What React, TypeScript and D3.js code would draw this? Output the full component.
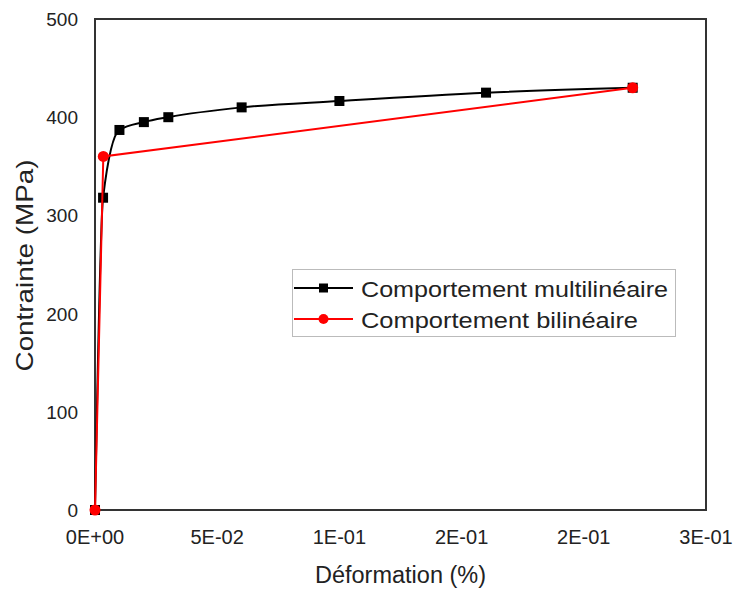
import React from "react";
import * as d3 from "d3";

const multiX = [0, 0.0033, 0.01, 0.02, 0.03, 0.06, 0.1, 0.16, 0.22];
const multiY = [0, 318, 387, 395, 400, 410, 416.5, 425, 430];
const biX = [0, 0.0034, 0.22];
const biY = [0, 360, 430];
const xTicks = [0, 0.05, 0.1, 0.15, 0.2, 0.25];
const yTicks = [0, 100, 200, 300, 400, 500];
const seriesNames = ["Comportement multilinéaire", "Comportement bilinéaire"];

const W = 733, H = 590;
const L = 95, R = 706, T = 19, B = 510;
const FONT = "'Liberation Sans', Arial, sans-serif";

export default function App() {
  const x = d3.scaleLinear().domain([0, 0.25]).range([L, R]);
  const y = d3.scaleLinear().domain([0, 500]).range([B, T]);
  const multi = multiX.map((v, i) => [v, multiY[i]] as [number, number]);
  const bi = biX.map((v, i) => [v, biY[i]] as [number, number]);
  const smooth = d3.line<[number, number]>().x(d => x(d[0])).y(d => y(d[1])).curve(d3.curveMonotoneX);
  const straight = d3.line<[number, number]>().x(d => x(d[0])).y(d => y(d[1]));
  const fmt = (v: number) => {
    if (v === 0) return "0E+00";
    const e = Math.floor(Math.log10(v) + 1e-9);
    let m = Math.round(v / Math.pow(10, e) + 1e-9);
    let ee = e;
    if (m >= 10) { m = 1; ee += 1; }
    const sign = ee < 0 ? "-" : "+";
    return `${m}E${sign}${String(Math.abs(ee)).padStart(2, "0")}`;
  };
  const sq = 10, rad = 5.5;
  return (
    <svg width={W} height={H} style={{ position: "absolute", left: 0, top: 0, background: "#fff" }} fontFamily={FONT}>
      <rect x={0} y={0} width={W} height={H} fill="#fff" />
      <rect x={L} y={T} width={R - L} height={B - T} fill="none" stroke="#333" strokeWidth={2} />
      {yTicks.map(t => (
        <text key={t} x={78} y={y(t) + 7} textAnchor="end" fontSize={19} fill="#222">{t}</text>
      ))}
      {xTicks.map(t => (
        <text key={t} x={x(t)} y={544} textAnchor="middle" fontSize={20} fill="#222">{fmt(t)}</text>
      ))}
      <text x={(L + R) / 2} y={583} textAnchor="middle" fontSize={23} textLength={171} lengthAdjust="spacingAndGlyphs" fill="#222">Déformation (%)</text>
      <text transform={`translate(33,${(T + B) / 2 + 1}) rotate(-90)`} textAnchor="middle" fontSize={24} textLength={212} lengthAdjust="spacingAndGlyphs" fill="#222">Contrainte (MPa)</text>
      <path d={smooth(multi) || ""} fill="none" stroke="#000" strokeWidth={2} />
      {multi.map((d, i) => (
        <rect key={i} x={x(d[0]) - sq / 2} y={y(d[1]) - sq / 2} width={sq} height={sq} fill="#000" />
      ))}
      <path d={straight(bi) || ""} fill="none" stroke="#ff0000" strokeWidth={2} />
      {bi.map((d, i) => (
        <circle key={i} cx={x(d[0])} cy={y(d[1])} r={rad} fill="#ff0000" />
      ))}
      <g>
        <rect x={292.5} y={269.5} width={383} height={67} fill="#fff" stroke="#bbb" strokeWidth={1} />
        <line x1={294} x2={353} y1={288} y2={288} stroke="#000" strokeWidth={2} />
        <rect x={323.5 - 4.5} y={288 - 4.5} width={9} height={9} fill="#000" />
        <text x={361} y={296.5} fontSize={22} textLength={307} lengthAdjust="spacingAndGlyphs" fill="#222">{seriesNames[0]}</text>
        <line x1={294} x2={353} y1={319} y2={319} stroke="#ff0000" strokeWidth={2} />
        <circle cx={323.5} cy={319} r={5} fill="#ff0000" />
        <text x={361} y={327.5} fontSize={22} textLength={277} lengthAdjust="spacingAndGlyphs" fill="#222">{seriesNames[1]}</text>
      </g>
    </svg>
  );
}
